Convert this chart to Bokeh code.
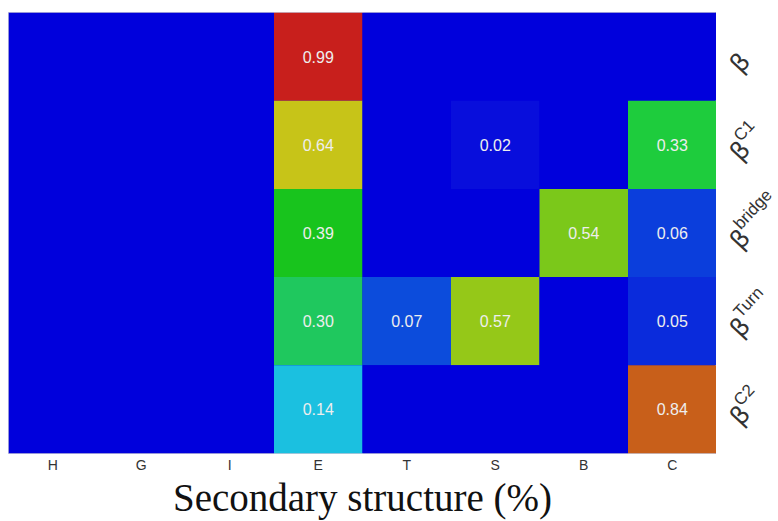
import math
import numpy as np
from bokeh.plotting import figure
from bokeh.layouts import row
from bokeh.models import ColumnDataSource, LinearColorMapper, FixedTicker, Range1d
from bokeh.core.properties import value
from bokeh.embed import file_html
from bokeh.resources import INLINE

# ---- data ----
structures = ["H", "G", "I", "E", "T", "S", "B", "C"]
row_base = ["β", "β", "β", "β", "β"]
row_sup = ["", "C1", "bridge", "Turn", "C2"]
beta_vals = [0, 0, 0, 0.99, 0, 0, 0, 0]
beta_c1_vals = [0, 0, 0, 0.64, 0, 0.02, 0, 0.33]
beta_bridge_vals = [0, 0, 0, 0.39, 0, 0, 0.54, 0.06]
beta_turn_vals = [0, 0, 0, 0.30, 0.07, 0.57, 0, 0.05]
beta_c2_vals = [0, 0, 0, 0.14, 0, 0, 0, 0.84]
rows = [beta_vals, beta_c1_vals, beta_bridge_vals, beta_turn_vals, beta_c2_vals]

# ---- colour map (jet-like, as in the picture) ----
stops = [(0.00, (0, 0, 220)), (0.02, (8, 14, 220)), (0.05, (10, 46, 220)),
         (0.07, (12, 82, 220)), (0.14, (28, 196, 224)), (0.30, (31, 200, 92)),
         (0.33, (30, 204, 60)), (0.39, (24, 196, 28)), (0.54, (122, 200, 26)),
         (0.57, (150, 200, 24)), (0.64, (200, 196, 24)), (0.84, (200, 96, 26)),
         (1.00, (200, 28, 28))]
palette = []
for t in np.linspace(0, 1, 256):
    for (a, ca_), (b, cb_) in zip(stops[:-1], stops[1:]):
        if a <= t <= b:
            f = (t - a) / (b - a)
            c = [int(round(ca_[k] + f * (cb_[k] - ca_[k]))) for k in range(3)]
            palette.append("#%02x%02x%02x" % tuple(c))
            break
mapper = LinearColorMapper(palette=palette, low=0, high=1)

nrows = len(rows)
xs, ys, vs, txt = [], [], [], []
for r, vals in enumerate(rows):
    for c, v in enumerate(vals):
        xs.append(c)
        ys.append(nrows - 1 - r)
        vs.append(v)
        txt.append("%.2f" % v if v > 0 else "")
src = ColumnDataSource(dict(x=xs, y=ys, v=vs, t=txt))

H = 521
TOP, BOTTOM = 12, 62
yr = Range1d(-0.5, nrows - 0.5)


def style_xaxis(fig, visible_text=True):
    ax = fig.xaxis
    ax.ticker = FixedTicker(ticks=list(range(len(structures))))
    ax.major_label_overrides = {i: s for i, s in enumerate(structures)}
    ax.axis_line_color = None
    ax.major_tick_line_color = None
    ax.minor_tick_line_color = None
    ax.major_tick_out = 0
    ax.major_tick_in = 0
    ax.major_label_standoff = 3
    ax.major_label_text_font = "Liberation Sans"
    ax.major_label_text_font_size = "14px"
    ax.major_label_text_color = "#333333"
    ax.axis_label = "Secondary structure (%)"
    ax.axis_label_text_font = "Liberation Serif"
    ax.axis_label_text_font_style = "normal"
    ax.axis_label_text_font_size = "39px"
    ax.axis_label_text_color = "#111111"
    ax.axis_label_standoff = 0
    if not visible_text:
        ax.major_label_text_alpha = 0
        ax.axis_label_text_alpha = 0


p = figure(width=716, height=H, output_backend="svg", toolbar_location=None,
           x_range=(-0.5, len(structures) - 0.5), y_range=yr,
           min_border_left=8, min_border_top=TOP, min_border_right=0, min_border_bottom=BOTTOM)
p.background_fill_color = palette[0]
p.rect(x="x", y="y", width=1, height=1, source=src,
       fill_color={"field": "v", "transform": mapper}, line_color=None)
p.text(x="x", y="y", text="t", source=src, text_align="center", text_baseline="middle",
       text_color="#eeeeee", text_font_size="16px", text_font=value("Liberation Sans"))
p.outline_line_color = "#c8c8d8"
p.grid.visible = False
p.yaxis.visible = False
style_xaxis(p)

# ---- right-hand row labels, in a narrow companion figure sharing the y range ----
LW = 62
q = figure(width=LW, height=H, output_backend="svg", toolbar_location=None,
           x_range=(0, LW), y_range=yr,
           min_border_left=0, min_border_top=TOP, min_border_right=0, min_border_bottom=BOTTOM)
q.outline_line_color = None
q.grid.visible = False
q.yaxis.visible = False
style_xaxis(q, visible_text=False)
q.xaxis.axis_label = "S"

row_px = 89.0
ang = 47.0
ca, sa = math.cos(math.radians(ang)), math.sin(math.radians(ang))
base_x, base_dy = 18.0, -12.0
bx, by, sx, sy, sups = [], [], [], [], []
for r in range(nrows):
    yv = nrows - 1 - r
    bx.append(base_x)
    by.append(yv + base_dy / row_px)
    if row_sup[r]:
        a, b = 15.0, 11.0
        sx.append(base_x + a * ca - b * sa)
        sy.append(yv + (base_dy + a * sa + b * ca) / row_px)
        sups.append(row_sup[r])
q.text(x=bx, y=by, text=row_base, angle=ang, angle_units="deg",
       text_font=value("DejaVu Sans"), text_font_size="25px", text_color="#333333",
       text_align="left", text_baseline="alphabetic")
q.text(x=sx, y=sy, text=sups, angle=ang, angle_units="deg",
       text_font=value("Liberation Sans"), text_font_size="17px", text_color="#333333",
       text_align="left", text_baseline="alphabetic")

layout = row(p, q)
open("out.html", "w").write(file_html(layout, INLINE))
